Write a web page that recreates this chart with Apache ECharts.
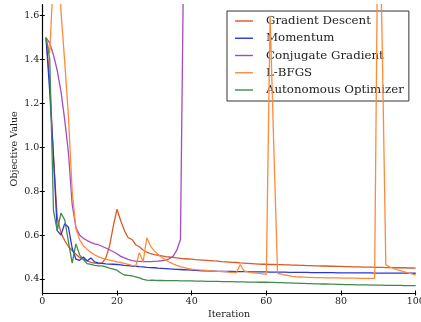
<!DOCTYPE html>
<html>
<head>
<meta charset="utf-8">
<script src="https://cdn.jsdelivr.net/npm/echarts@6/dist/echarts.min.js"></script>
<style>
  html, body { margin: 0; padding: 0; background: #ffffff; }
  #chart { width: 421px; height: 322px; }
</style>
</head>
<body>
<div id="chart"></div>
<script>
// Objective value per iteration for each optimizer (iterations 1..100)
const seriesNames = ['Gradient Descent', 'Momentum', 'Conjugate Gradient', 'L-BFGS', 'Autonomous Optimizer'];

const gradientDescent = [
  1.50, 1.30, 0.95, 0.68, 0.61, 0.575, 0.548, 0.530, 0.513, 0.498,
  0.490, 0.483, 0.476, 0.472, 0.470, 0.472, 0.495, 0.550, 0.640, 0.718,
  0.665, 0.620, 0.588, 0.580, 0.556, 0.547, 0.532, 0.522, 0.515, 0.511,
  0.508, 0.505, 0.502, 0.500, 0.498, 0.496, 0.494, 0.492, 0.491, 0.490,
  0.488, 0.487, 0.486, 0.485, 0.484, 0.482, 0.481, 0.479, 0.478, 0.477,
  0.476, 0.475, 0.473, 0.472, 0.471, 0.470, 0.469, 0.468, 0.467, 0.467,
  0.466, 0.466, 0.465, 0.465, 0.464, 0.464, 0.463, 0.463, 0.462, 0.462,
  0.461, 0.461, 0.460, 0.460, 0.459, 0.459, 0.458, 0.458, 0.457, 0.457,
  0.456, 0.456, 0.455, 0.455, 0.455, 0.454, 0.454, 0.454, 0.453, 0.453,
  0.453, 0.452, 0.452, 0.452, 0.451, 0.451, 0.451, 0.450, 0.450, 0.449
];

const momentum = [
  1.50, 1.25, 0.96, 0.62, 0.600, 0.652, 0.636, 0.540, 0.490, 0.485,
  0.500, 0.482, 0.496, 0.478, 0.473, 0.471, 0.469, 0.468, 0.467, 0.466,
  0.464, 0.462, 0.461, 0.459, 0.458, 0.456, 0.455, 0.453, 0.452, 0.451,
  0.449, 0.448, 0.447, 0.446, 0.445, 0.444, 0.443, 0.442, 0.441, 0.440,
  0.439, 0.438, 0.437, 0.437, 0.436, 0.436, 0.435, 0.435, 0.434, 0.434,
  0.434, 0.433, 0.433, 0.433, 0.433, 0.432, 0.432, 0.432, 0.432, 0.432,
  0.431, 0.431, 0.431, 0.431, 0.431, 0.430, 0.430, 0.430, 0.430, 0.430,
  0.430, 0.429, 0.429, 0.429, 0.429, 0.429, 0.429, 0.429, 0.428, 0.428,
  0.428, 0.428, 0.428, 0.428, 0.428, 0.428, 0.428, 0.428, 0.427, 0.427,
  0.427, 0.427, 0.427, 0.427, 0.427, 0.427, 0.427, 0.426, 0.426, 0.426
];

// Diverges after iteration 37 and leaves the plotted range
const conjugateGradient = [
  1.50, 1.475, 1.42, 1.35, 1.255, 1.125, 0.975, 0.74, 0.635, 0.600,
  0.585, 0.575, 0.567, 0.560, 0.556, 0.549, 0.541, 0.533, 0.524, 0.515,
  0.503, 0.496, 0.489, 0.484, 0.481, 0.480, 0.479, 0.479, 0.479, 0.480,
  0.481, 0.483, 0.486, 0.492, 0.503, 0.530, 0.580, 2.10
];

const lbfgs = [
  1.50, 1.43, 1.80, 2.20, 1.62, 1.39, 1.14, 0.80, 0.63, 0.578,
  0.552, 0.535, 0.521, 0.510, 0.502, 0.495, 0.490, 0.486, 0.482, 0.478,
  0.475, 0.471, 0.467, 0.462, 0.458, 0.520, 0.478, 0.588, 0.550, 0.528,
  0.512, 0.498, 0.487, 0.477, 0.469, 0.462, 0.456, 0.452, 0.448, 0.445,
  0.443, 0.441, 0.440, 0.439, 0.437, 0.436, 0.435, 0.434, 0.433, 0.431,
  0.430, 0.429, 0.466, 0.437, 0.432, 0.429, 0.427, 0.425, 0.423, 0.421,
  1.60, 1.00, 0.426, 0.422, 0.418, 0.415, 0.412, 0.410, 0.409, 0.408,
  0.407, 0.407, 0.406, 0.406, 0.406, 0.405, 0.405, 0.405, 0.405, 0.404,
  0.404, 0.404, 0.404, 0.404, 0.403, 0.403, 0.403, 0.403, 0.403, 2.30,
  1.50, 0.464, 0.455, 0.448, 0.442, 0.437, 0.432, 0.427, 0.423, 0.419
];

const autonomous = [
  1.50, 1.40, 0.71, 0.62, 0.70, 0.67, 0.57, 0.472, 0.560, 0.510,
  0.488, 0.470, 0.466, 0.462, 0.460, 0.460, 0.455, 0.449, 0.445, 0.440,
  0.427, 0.418, 0.416, 0.414, 0.410, 0.405, 0.398, 0.395, 0.394, 0.394,
  0.393, 0.393, 0.392, 0.392, 0.392, 0.392, 0.391, 0.391, 0.391, 0.391,
  0.390, 0.390, 0.390, 0.389, 0.389, 0.389, 0.389, 0.388, 0.388, 0.388,
  0.388, 0.387, 0.387, 0.387, 0.386, 0.386, 0.386, 0.385, 0.385, 0.385,
  0.384, 0.384, 0.383, 0.383, 0.382, 0.382, 0.381, 0.381, 0.380, 0.380,
  0.379, 0.379, 0.378, 0.378, 0.377, 0.377, 0.376, 0.376, 0.375, 0.375,
  0.374, 0.374, 0.374, 0.373, 0.373, 0.373, 0.373, 0.372, 0.372, 0.372,
  0.372, 0.371, 0.371, 0.371, 0.371, 0.371, 0.370, 0.370, 0.370, 0.370
];

const yTicks = [0.4, 0.6, 0.8, 1.0, 1.2, 1.4, 1.6];

const colors = ['#d95a24', '#2b36d3', '#a44cc1', '#ff8a3a', '#3f8b4e'];
const values = [gradientDescent, momentum, conjugateGradient, lbfgs, autonomous];

const FONT = 'DejaVu Serif';

function pairs(arr) {
  return arr.map((v, i) => [i + 1, v]);
}

const chart = echarts.init(document.getElementById('chart'), null, { renderer: 'canvas' });

const baseX = {
  type: 'value', min: 0, max: 100, interval: 20,
  splitLine: { show: false }
};
const baseY = {
  type: 'value', min: 0.336, max: 1.65,
  splitLine: { show: false }
};

chart.setOption({
  animation: false,
  backgroundColor: '#ffffff',
  grid: { left: 42.3, right: 5.3, top: 4.7, bottom: 29, containLabel: false, outerBoundsMode: 'none' },
  legend: {
    data: seriesNames,
    orient: 'vertical',
    left: 227,
    top: 11,
    icon: 'rect',
    itemWidth: 18,
    itemHeight: 1.4,
    itemGap: 5.25,
    padding: [4, 5, 5, 8],
    backgroundColor: '#ffffff',
    borderColor: '#333333',
    borderWidth: 1,
    borderRadius: 0,
    formatter: name => '{g|}' + name,
    textStyle: {
      fontFamily: FONT, fontSize: 11.8, color: '#222222', lineHeight: 12,
      rich: { g: { width: 8 } }
    }
  },
  xAxis: [
    Object.assign({}, baseX, {
      name: 'Iteration', nameLocation: 'middle', nameGap: 17, nameMoveOverlap: false,
      nameTextStyle: { fontFamily: FONT, fontSize: 9.5, color: '#222222' },
      axisLine: { show: true, lineStyle: { color: '#000000', width: 1.2 } },
      axisTick: { show: true, length: 2.5, lineStyle: { color: '#000000', width: 1 } },
      axisLabel: { fontFamily: FONT, fontSize: 9.5, color: '#222222', margin: 4 }
    }),
    Object.assign({}, baseX, {
      position: 'bottom', offset: 0,
      axisLine: { show: false },
      axisTick: { show: true, inside: true, length: 2.5, lineStyle: { color: '#000000', width: 1 } },
      axisLabel: { show: false }
    })
  ],
  yAxis: [
    Object.assign({}, baseY, {
      name: 'Objective Value', nameLocation: 'middle', nameGap: 23, nameMoveOverlap: false,
      nameTextStyle: { fontFamily: FONT, fontSize: 9.5, color: '#222222' },
      axisLine: { show: true, lineStyle: { color: '#000000', width: 1.2 } },
      axisTick: { show: true, length: 2.5, customValues: yTicks, lineStyle: { color: '#000000', width: 1 } },
      axisLabel: {
        fontFamily: FONT, fontSize: 9.5, color: '#222222', margin: 3,
        customValues: yTicks, formatter: v => v.toFixed(1)
      }
    }),
    Object.assign({}, baseY, {
      position: 'left', offset: 0,
      axisLine: { show: false },
      axisTick: { show: true, inside: true, length: 2.5, customValues: yTicks, lineStyle: { color: '#000000', width: 1 } },
      axisLabel: { show: false }
    })
  ],
  series: seriesNames.map((name, k) => ({
    name: name,
    type: 'line',
    xAxisIndex: 0,
    yAxisIndex: 0,
    data: pairs(values[k]),
    showSymbol: false,
    symbol: 'none',
    clip: true,
    color: colors[k],
    lineStyle: { color: colors[k], width: 1.3 },
    emphasis: { disabled: true },
    z: 2 + k
  }))
});
</script>
</body>
</html>
